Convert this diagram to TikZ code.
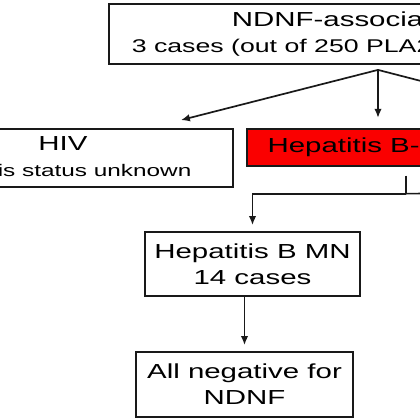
\documentclass[tikz,border=0pt]{standalone}
\usepackage{fontspec}
\setmainfont{Liberation Sans}[FakeStretch=1.45]
\usetikzlibrary{arrows.meta, positioning, calc}
\definecolor{hepb}{RGB}{250,0,0}
\definecolor{borde}{RGB}{25,25,25}

\begin{document}
\begin{tikzpicture}[
    x=1pt, y=-1pt,
    caja/.style={draw=borde, line width=1.8pt, fill=white, align=center, inner sep=0pt,
                 font=\fontsize{20.3}{26}\selectfont},
    flecha/.style={-{Latex[length=9pt, width=7.5pt]}, line width=1.7pt, borde},
    linea/.style={line width=1.7pt, borde}
]

% Marco
\useasboundingbox (0,0) rectangle (420,420);
\clip (0,0) rectangle (420,420);

% Cajas
\node[caja, minimum width=532, minimum height=60] (ndnf) at (375,34)
    {NDNF-associated MN\\{\fontsize{18.4}{26}\selectfont 3 cases (out of 250 PLA2R-negative MN)}};
\node[caja, minimum width=340, minimum height=58] (hiv) at (63,158)
    {HIV\\{\fontsize{16.8}{24}\selectfont Hepatitis status unknown\hspace*{14pt}}};
\node[caja, fill=hepb, minimum width=334, minimum height=37.5] (hbv) at (414,147.5)
    {Hepatitis B-associated};
\node[caja, minimum width=215, minimum height=64] (mn) at (252.5,264)
    {Hepatitis B MN\\14 cases};
\node[caja, minimum width=217, minimum height=65] (neg) at (244.5,384.5)
    {All negative for\\NDNF};

% Flechas desde la caja superior
\coordinate (raiz) at ($(ndnf.south)+(3,5)$);
\coordinate (hivtop) at ($(hiv.north east)+(-53,-8)$);
\coordinate (otro) at (576,121);
\draw[flecha] (raiz) -- (hivtop);
\draw[flecha, shorten >=10pt] (raiz) -- (raiz |- hbv.north);
\draw[flecha] (raiz) -- (otro);

% Rama hepatitis B
\coordinate (rama) at ($(hbv.south)+(-8,26.5)$);
\coordinate (ramader) at (560,193);
\draw[linea] ($(hbv.south)+(-8,8.5)$) -- (rama);
\draw[flecha, shorten >=6pt] (rama) -| (mn.north);
\draw[linea] (rama) -- (ramader);

% Resultado
\draw[flecha, shorten >=6pt] (mn.south -| neg.north) -- (neg.north);

\end{tikzpicture}
\end{document}
